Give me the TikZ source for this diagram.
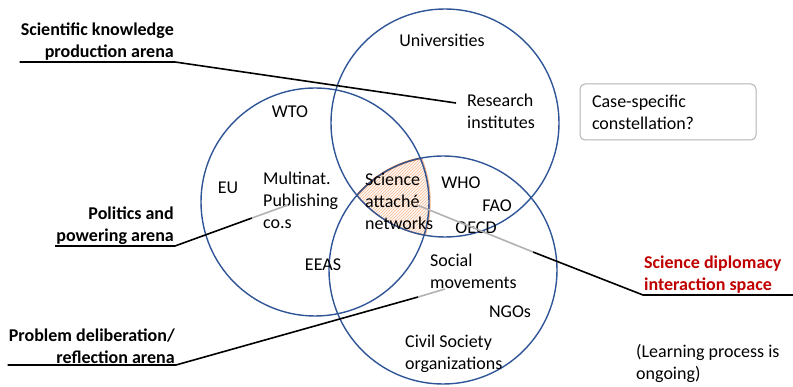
\documentclass[tikz,border=0pt]{standalone}
\usepackage{fontspec}
\setmainfont{Carlito}
\usepackage{tikz}
\usetikzlibrary{patterns}
\definecolor{arenablue}{RGB}{47,85,151}
\definecolor{hatchorange}{RGB}{237,125,49}
\definecolor{sdred}{RGB}{192,0,0}
\tikzstyle{arena} = [circle, draw=arenablue, line width=1.4pt, minimum size=228pt, inner sep=0pt]
\tikzstyle{lead} = [line width=1.6pt, black]
\tikzstyle{fade} = [line width=1.6pt, gray!60]

\begin{document}
\begin{tikzpicture}[
			x=1pt, y=-1pt,
			every node/.style={font=\fontsize{18}{22}\selectfont, inner sep=1pt},
			label/.style={font=\fontsize{18}{22}\selectfont\bfseries, align=right, anchor=south east},
			actor/.style={align=left, anchor=west},
		]
		\useasboundingbox (0,0) rectangle (793,387);

		% Shared space of the three arenas
		\begin{scope}
			\clip (445,123) circle (114);
			\clip (315,202) circle (115);
			\fill[hatchorange!6] (443,270) circle (114);
			\fill[pattern=north east lines, pattern color=hatchorange!50] (443,270) circle (114);
			\draw[hatchorange, line width=2pt] (443,270) circle (114);
		\end{scope}
		\begin{scope}
			\clip (445,123) circle (114);
			\clip (443,270) circle (114);
			\draw[hatchorange!60, line width=1.4pt] (315,202) circle (115);
		\end{scope}
		\begin{scope}
			\clip (315,202) circle (115);
			\clip (443,270) circle (114);
			\draw[hatchorange!60, line width=1.4pt] (445,123) circle (114);
		\end{scope}

		% Arenas
		\node[arena] (science) at (445,123) {};
		\node[arena] (politics) at (315,202) {};
		\node[arena] (society) at (443,270) {};

		% Actors
		\node (univ) at (442,40) {Universities};
		\node[actor] (research) at (466,111) {Research\\institutes};
		\node (wto) at (290,112) {WTO};
		\node (eu) at (228,188) {EU};
		\node[actor] (publishing) at (262,200) {Multinat.\\Publishing\\co.s};
		\node[actor] (attache) at (364,201) {Science\\attaché\\networks};
		\node (who) at (461,183) {WHO};
		\node (fao) at (497,206) {FAO};
		\node (oecd) at (476,228) {OECD};
		\node (eeas) at (323,265) {EEAS};
		\node[actor] (social) at (429,271) {Social\\movements};
		\node (ngos) at (510,312) {NGOs};
		\node[actor] (civil) at (404,354) {Civil Society\\organizations};

		% Side notes
		\node[draw=gray!60, line width=1pt, rounded corners=5pt, minimum width=176pt, minimum height=56pt,
			text width=152pt, align=left] (case) at (668,112) {Case-specific\\constellation?};
		\node[actor] (learning) at (635,363) {(Learning process is\\ongoing)};

		% Arena labels
		\node[label] (scilabel) at (175,62) {Scientific knowledge\\production arena};
		\node[label] (pollabel) at (175,246) {Politics and\\powering arena};
		\node[label] (problabel) at (176,365) {Problem deliberation/\\reflection arena};
		\node[label, text=sdred, align=left, anchor=south west] (sdlabel) at (643,295) {Science diplomacy\\interaction space};

		% Leader ends
		\coordinate (scito) at (456,103);
		\coordinate (polmid) at (252,218);
		\coordinate (polto) at (288,205);
		\coordinate (probmid) at (418,297);
		\coordinate (probto) at (445,289);
		\coordinate (sdend) at (793,295);
		\coordinate (sdmid) at (533,252);
		\coordinate (sdto) at (417,205);

		% Leaders
		\draw[lead] (scilabel.south west) -- (scilabel.south east) -- (scito);
		\draw[lead] (pollabel.south west) -- (pollabel.south east) -- (polmid);
		\draw[fade] (polmid) -- (polto);
		\draw[lead] (problabel.south west) -- (problabel.south east) -- (probmid);
		\draw[fade] (probmid) -- (probto);
		\draw[lead] (sdend) -- (sdlabel.south west) -- (sdmid);
		\draw[fade] (sdmid) -- (sdto);
	\end{tikzpicture}
\end{document}
